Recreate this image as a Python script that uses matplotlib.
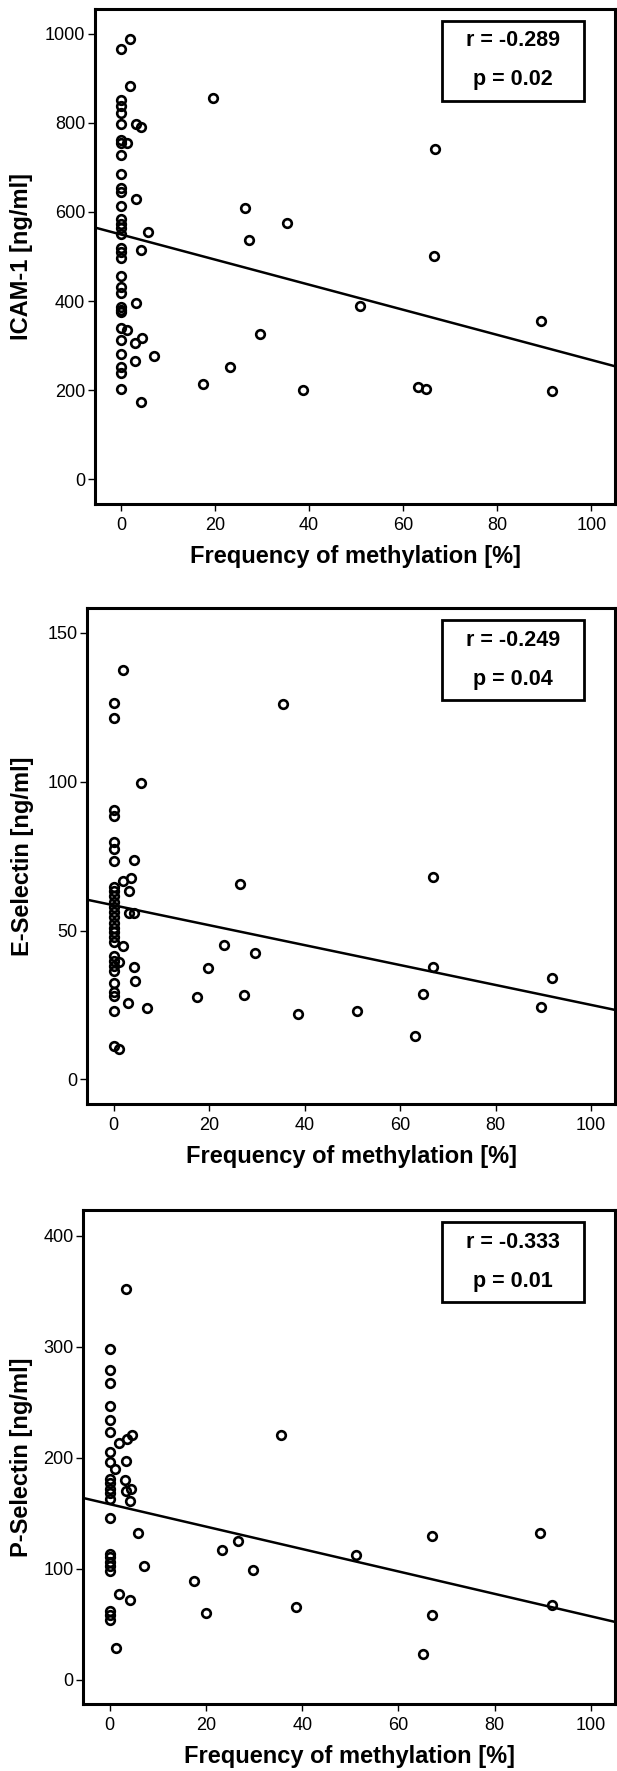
import numpy as np
import matplotlib
matplotlib.use("Agg")
import matplotlib.pyplot as plt
import matplotlib.patches as mpatches

plt.rcParams["font.family"] = ["Liberation Sans", "DejaVu Sans"]

# ── data ──────────────────────────────────────────────────────────────────────

icam_x = [0]*31 + [1.9, 1.9, 3.3, 4.2, 1.2, 3.3, 5.8, 4.2, 3.3, 1.2, 3.0, 4.5, 7.0, 3.0, 4.2,
                   19.6, 26.4, 35.3, 27.3, 17.4, 23.1, 29.6, 38.6, 66.7, 66.6, 50.8, 89.2, 63.1, 64.8, 91.7]
icam_y = [966, 852, 838, 822, 798, 762, 755, 728, 685, 655, 645, 613, 584, 572, 563, 550,
          518, 509, 496, 456, 432, 419, 387, 380, 375, 339, 312, 282, 251, 239, 202,
          988, 883, 798, 792, 755, 629, 554, 514, 396, 336, 305, 318, 276, 265, 174,
          856, 610, 576, 537, 213, 252, 327, 200, 742, 500, 388, 356, 206, 202, 198]
icam_fit = (549.5, -2.82)

esel_x = [0]*28 + [1.9, 5.7, 4.3, 3.6, 1.9, 3.2, 3.2, 4.3, 2.0, 1.1, 4.3, 4.5, 3.1, 6.9, 1.1,
                   35.4, 26.5, 17.4, 19.7, 23.2, 27.4, 29.6, 38.7, 66.8, 66.8, 91.9, 89.4, 64.8, 63.2, 51.0]
esel_y = [126.4, 121.5, 90.5, 88.6, 79.6, 77.4, 73.5, 64.5, 63.2, 61.7, 59.5, 57.8, 56.1, 54.4,
          52.7, 51.0, 49.4, 47.7, 46.0, 41.5, 39.8, 38.2, 36.5, 32.5, 29.2, 28.1, 22.8, 11.2,
          137.7, 99.5, 73.7, 67.7, 66.5, 63.4, 55.8, 55.8, 44.9, 39.3, 37.6, 33.1, 25.5, 23.8, 10.1,
          126.2, 65.6, 27.7, 37.4, 45.2, 28.4, 42.3, 21.9, 67.9, 37.8, 34.2, 24.4, 28.6, 14.4, 23.0]
esel_fit = (58.5, -0.335)

psel_x = [0]*22 + [3.4, 4.6, 3.6, 2.0, 3.4, 1.1, 3.2, 4.5, 3.4, 4.3, 5.8, 7.2, 2.0, 4.3, 1.3,
                   35.6, 17.5, 19.9, 23.3, 26.7, 29.8, 38.8, 67.0, 51.2, 89.5, 92.0, 67.0, 65.0]
psel_y = [298, 279, 267, 246, 234, 223, 205, 196, 181, 177, 172, 168, 163, 146,
          113, 110, 106, 102, 98, 62, 58, 54,
          352, 220, 217, 213, 197, 190, 180, 172, 170, 161, 132, 102, 77, 72, 28,
          220, 89, 60, 117, 125, 99, 65, 129, 112, 132, 67, 58, 23]
psel_fit = (158.0, -1.01)

panels = [
    # label, x, y, fit, yticks, ylim, r, p, axes box in px (left, top, right, bottom)
    ("ICAM-1 [ng/ml]", icam_x, icam_y, icam_fit, np.arange(0, 1001, 200), (-56, 1056),
     "r = -0.289", "p = 0.02", (95, 9, 615, 504)),
    ("E-Selectin [ng/ml]", esel_x, esel_y, esel_fit, np.arange(0, 151, 50), (-8.3, 158.3),
     "r = -0.249", "p = 0.04", (87.3, 608.3, 615, 1104)),
    ("P-Selectin [ng/ml]", psel_x, psel_y, psel_fit, np.arange(0, 401, 100), (-22, 423),
     "r = -0.333", "p = 0.01", (83.3, 1210, 615, 1704)),
]

W, H = 617, 1771
fig = plt.figure(figsize=(W / 100, H / 100), dpi=100)

XLIM = (-5.5, 105)

for label, xs, ys, fit, yticks, ylim, rtxt, ptxt, (l, t, r, b) in panels:
    ax = fig.add_axes([l / W, 1 - b / H, (r - l) / W, (b - t) / H])
    ax.plot(xs, ys, "o", ms=6.2, mfc="none", mec="black", mew=1.9, zorder=3)

    xx = np.array(XLIM)
    ax.plot(xx, fit[0] + fit[1] * xx, color="black", lw=1.8, zorder=2)

    ax.set_xlim(*XLIM)
    ax.set_ylim(*ylim)
    ax.set_xticks(np.arange(0, 101, 20))
    ax.set_yticks(yticks)
    ax.tick_params(direction="out", length=5, width=1, labelsize=13, color="black")
    ax.tick_params(axis="y", pad=2)
    ax.tick_params(axis="x", pad=4)
    for sp in ax.spines.values():
        sp.set_linewidth(2.2)
        sp.set_color("black")

    ax.set_ylabel(label, fontsize=17, fontweight="bold", va="center")
    ax.yaxis.set_label_coords((22 - l) / (r - l), 0.5)
    ax.set_xlabel("Frequency of methylation [%]", fontsize=17, fontweight="bold", va="center")
    ax.xaxis.set_label_coords(0.5, -53 / (b - t))

    # r / p box
    bx0, bx1 = 442, 584
    by0 = t + 12
    box = mpatches.Rectangle((bx0 / W, 1 - (by0 + 80) / H), (bx1 - bx0) / W, 80 / H,
                             transform=fig.transFigure, fill=False, lw=2, ec="black")
    fig.add_artist(box)
    cx = (bx0 + bx1) / 2 / W
    fig.text(cx, 1 - (by0 + 20) / H, rtxt, ha="center", va="center",
             fontsize=15.5, fontweight="bold")
    fig.text(cx, 1 - (by0 + 59) / H, ptxt, ha="center", va="center",
             fontsize=15.5, fontweight="bold")

fig.savefig("out.png", dpi=100, facecolor="white")
